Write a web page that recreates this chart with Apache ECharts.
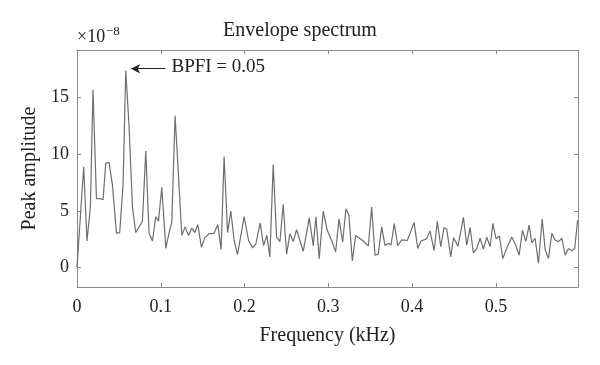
<!DOCTYPE html>
<html><head><meta charset="utf-8">
<script src="https://cdn.jsdelivr.net/npm/echarts@6/dist/echarts.min.js"></script>
<style>html,body{margin:0;padding:0;background:#fff}#c{width:600px;height:365px}</style>
</head><body><div id="c"></div>
<script>
// Frequency (kHz) of each spectrum point
const freq = [0,0.0080,0.0119,0.0160,0.0191,0.0232,0.0271,0.0311,0.0343,0.0382,0.0423,0.0471,0.0510,0.0550,0.0582,0.0621,0.0662,0.0701,0.0741,0.0781,0.0821,0.0860,0.0901,0.0940,0.0973,0.1012,0.1060,0.1099,0.1131,0.1171,0.1251,0.1290,0.1331,0.1370,0.1406,0.1442,0.1486,0.1526,0.1577,0.1633,0.1681,0.1720,0.1756,0.1797,0.1836,0.1876,0.1916,0.1995,0.2048,0.2096,0.2135,0.2186,0.2227,0.2266,0.2302,0.2342,0.2382,0.2422,0.2461,0.2502,0.2541,0.2581,0.2621,0.2700,0.2772,0.2820,0.2852,0.2891,0.2939,0.2987,0.3039,0.3087,0.3127,0.3171,0.3210,0.3246,0.3286,0.3326,0.3410,0.3477,0.3517,0.3557,0.3596,0.3637,0.3676,0.3716,0.3748,0.3787,0.3828,0.3876,0.3943,0.4023,0.4067,0.4106,0.4174,0.4214,0.4262,0.4301,0.4342,0.4381,0.4413,0.4461,0.4495,0.4548,0.4612,0.4652,0.4692,0.4731,0.4772,0.4811,0.4851,0.4891,0.4931,0.4963,0.5002,0.5042,0.5082,0.5137,0.5190,0.5238,0.5277,0.5317,0.5357,0.5397,0.5429,0.5468,0.5508,0.5552,0.5588,0.5627,0.5668,0.5707,0.5747,0.5787,0.5827,0.5866,0.5907,0.5940,0.5976];
// Peak amplitude (x1e-8)
const amp = [0.05,8.9,2.35,5.4,15.7,6.1,6.1,6.0,9.2,9.3,7.3,3.05,3.1,7.4,17.4,12.5,5.35,3.1,3.6,4.1,10.3,3.05,2.35,4.5,4.1,7.1,1.7,3.1,4.0,13.4,2.85,3.6,2.85,3.5,3.1,3.8,1.8,2.65,3.0,3.0,3.8,1.6,9.8,3.1,5.0,2.4,1.15,4.5,2.4,1.75,2.1,3.95,1.95,2.85,0.95,9.1,2.7,2.3,5.6,1.2,3.0,2.3,3.35,1.45,4.4,1.95,4.5,0.8,5.0,3.3,2.4,1.4,4.3,2.25,5.2,4.6,0.6,2.85,2.4,1.9,5.35,1.1,1.2,3.6,1.95,2.15,2.0,3.9,1.95,2.45,2.4,4.0,1.7,2.35,2.55,3.25,1.5,4.1,1.85,3.55,3.4,0.95,2.65,1.9,4.45,2.0,3.55,1.3,1.7,2.6,1.65,2.7,1.85,3.9,2.55,2.8,0.8,1.85,2.7,1.95,1.1,3.3,2.3,3.75,2.2,2.6,0.4,4.3,1.6,0.8,3.05,2.45,2.3,2.6,1.1,1.7,1.5,1.7,4.2];
const yTicks = [0,5,10,15];
const xRange = [0, 0.598];
const yRange = [-1.7, 19.2];
const titleText = 'Envelope spectrum';
const xName = 'Frequency (kHz)';
const yName = 'Peak amplitude';
const annText = 'BPFI = 0.05';
const annArrow = [[0.1056, 17.55],[0.0645, 17.55]];

const F = 'Liberation Serif, DejaVu Serif, serif';
const AX = '#8a8a8a', TX = '#222';
const chart = echarts.init(document.getElementById('c'), null, {renderer:'canvas'});
const axCommon = {
  axisLine:{show:true,onZero:false,lineStyle:{color:AX,width:1}},
  axisTick:{show:true,inside:true,length:4,lineStyle:{color:AX}},
  splitLine:{show:false}
};
chart.setOption({
  animation:false,
  title:{text:titleText,left:'center',top:16,textStyle:{fontFamily:F,fontSize:20,fontWeight:'normal',color:TX}},
  grid:{left:77,right:22,top:50,bottom:78,show:false},
  xAxis:[
    Object.assign({type:'value',position:'bottom',min:xRange[0],max:xRange[1],interval:0.1,
      name:xName,nameLocation:'middle',nameGap:39,
      nameTextStyle:{fontFamily:F,fontSize:20,color:TX},
      axisLabel:{fontFamily:F,fontSize:18,color:TX,margin:11,showMaxLabel:false}},axCommon),
    Object.assign({type:'value',position:'top',min:xRange[0],max:xRange[1],interval:0.1,
      axisLabel:{show:false}},axCommon)
  ],
  yAxis:[
    Object.assign({type:'value',position:'left',min:yRange[0],max:yRange[1],
      name:yName,nameLocation:'middle',nameGap:26,
      nameTextStyle:{fontFamily:F,fontSize:20,color:TX},
      axisLabel:{fontFamily:F,fontSize:18,color:TX,margin:8,customValues:yTicks}},axCommon,
      {axisTick:{show:true,inside:true,length:4,lineStyle:{color:AX},customValues:yTicks}}),
    Object.assign({type:'value',position:'right',min:yRange[0],max:yRange[1],
      axisLabel:{show:false,customValues:yTicks}},axCommon,
      {axisTick:{show:true,inside:true,length:4,lineStyle:{color:AX},customValues:yTicks}})
  ],
  series:[{
    type:'line',xAxisIndex:0,yAxisIndex:0,
    data:freq.map((f,i)=>[f,amp[i]]),
    showSymbol:false,symbol:'none',
    lineStyle:{color:'#6e6e6e',width:1.2},
    markLine:{
      silent:true,symbol:['none','arrow'],symbolSize:[7,9],
      lineStyle:{color:'#222',width:1,type:'solid'},
      label:{show:false},
      data:[[{coord:annArrow[0]},{coord:annArrow[1]}]]
    }
  }]
});
const p = chart.convertToPixel({xAxisIndex:0,yAxisIndex:0}, annArrow[0]);
const o = chart.convertToPixel({xAxisIndex:0,yAxisIndex:0}, [0, yRange[1]]);
chart.setOption({graphic:[
  {type:'text',left:p[0]+6,top:p[1]-11,style:{text:annText,font:'19px '+F,fill:TX}},
  {type:'text',left:o[0],top:o[1]-22,style:{text:'×10',font:'18px '+F,fill:TX}},
  {type:'text',left:o[0]+29,top:o[1]-25,style:{text:'−8',font:'13px '+F,fill:TX}}
]});
</script></body></html>
